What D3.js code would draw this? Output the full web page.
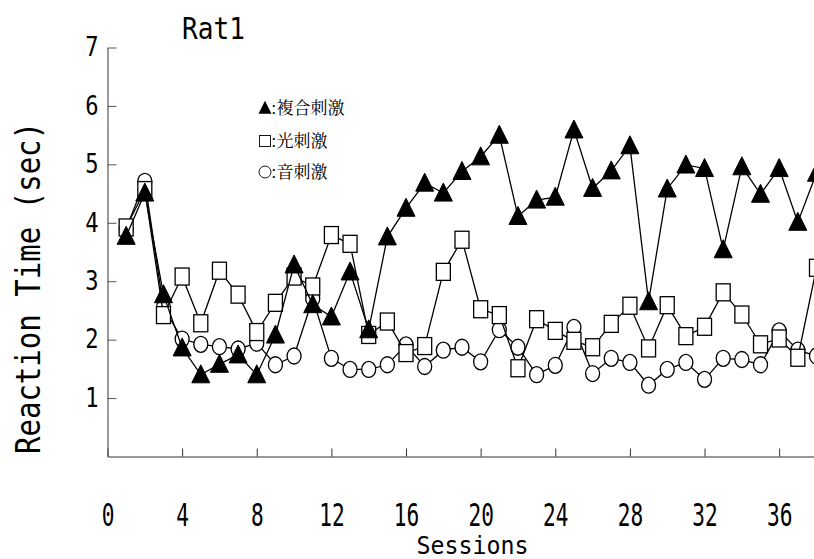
<!DOCTYPE html>
<html>
<head>
<meta charset="utf-8">
<script src="https://cdn.jsdelivr.net/npm/d3@7"></script>
<style>
  html, body { margin: 0; padding: 0; background: #fff; overflow: hidden; }
  svg { display: block; }
</style>
</head>
<body>
<svg id="chart" width="814" height="559"></svg>
<script>
// Sessions and mean reaction times (sec) for each stimulus condition
const sessions = d3.range(1, 39);
const complexStim = [3.77, 4.51, 2.77, 1.86, 1.40, 1.58, 1.74, 1.40, 2.08, 3.28,
  2.60, 2.39, 3.16, 2.17, 3.76, 4.25, 4.68, 4.51, 4.88, 5.13,
  5.50, 4.11, 4.39, 4.44, 5.59, 4.59, 4.89, 5.32, 2.65, 4.58,
  4.99, 4.93, 3.54, 4.96, 4.49, 4.93, 4.01, 4.85];
const lightStim = [3.92, 4.56, 2.42, 3.08, 2.28, 3.18, 2.77, 2.13, 2.63, 3.08,
  2.91, 3.79, 3.64, 2.08, 2.31, 1.77, 1.89, 3.16, 3.71, 2.52,
  2.42, 1.51, 2.35, 2.15, 1.98, 1.87, 2.27, 2.58, 1.85, 2.59,
  2.06, 2.22, 2.81, 2.43, 1.92, 2.02, 1.69, 3.23];
const soundStim = [3.90, 4.71, 2.55, 2.01, 1.92, 1.88, 1.84, 1.94, 1.57, 1.72,
  2.70, 1.68, 1.49, 1.49, 1.57, 1.91, 1.54, 1.82, 1.87, 1.62,
  2.17, 1.87, 1.40, 1.56, 2.21, 1.42, 1.68, 1.61, 1.22, 1.49,
  1.61, 1.32, 1.68, 1.66, 1.57, 2.15, 1.82, 1.72];
const xTicks = [0, 4, 8, 12, 16, 20, 24, 28, 32, 36];
const yTicks = [1, 2, 3, 4, 5, 6, 7];
const legendLabels = [":複合刺激", ":光刺激", ":音刺激"];

const svg = d3.select("#chart");
const mono = "'DejaVu Sans Mono', monospace";
const cjk = "'Noto Serif CJK JP', 'Noto Sans CJK JP', serif";

const x = d3.scaleLinear().domain([0, 40]).range([107.5, 853.8]);
const y = d3.scaleLinear().domain([0, 7]).range([456.5, 47.5]);

// X axis: inward ticks, labels well below the line
const gx = svg.append("g").attr("transform", `translate(0,${y(0)})`)
  .call(d3.axisBottom(x).tickValues(xTicks).tickFormat(d3.format("d"))
    .tickSize(-8).tickPadding(47).tickSizeOuter(0));
gx.select(".domain").attr("stroke", "#333").attr("stroke-width", 1.2);
gx.selectAll(".tick line").attr("stroke", "#333");
gx.selectAll(".tick text")
  .attr("font-family", mono).attr("font-size", 32).attr("fill", "#000")
  .attr("transform", "scale(0.66,1)");

// Y axis: inward ticks
const gy = svg.append("g").attr("transform", `translate(${x(0)},0)`)
  .call(d3.axisLeft(y).tickValues(yTicks).tickFormat(d3.format("d"))
    .tickSize(-9).tickPadding(9).tickSizeOuter(0));
gy.select(".domain").attr("stroke", "#555").attr("stroke-width", 1.2);
gy.selectAll(".tick line").attr("stroke", "#555");
gy.selectAll(".tick text")
  .attr("font-family", mono).attr("font-size", 26).attr("fill", "#000")
  .attr("x", -9 / 0.85)
  .attr("transform", "scale(0.85,1)");

// Titles
svg.append("text").attr("transform", "translate(182,39) scale(0.87,1)")
  .attr("font-family", mono).attr("font-size", 30).text("Rat1");
svg.append("text").attr("transform", "translate(472.5,554) scale(0.97,1)")
  .attr("text-anchor", "middle")
  .attr("font-family", mono).attr("font-size", 24).text("Sessions");
svg.append("text").attr("transform", "translate(40,288) rotate(-90) scale(0.88,1)")
  .attr("text-anchor", "middle")
  .attr("font-family", mono).attr("font-size", 33).text("Reaction Time (sec)");

// Marker shapes
const tri = (s) => `M0,${-s * 0.55}L${s / 2},${s * 0.45}L${-s / 2},${s * 0.45}Z`;
const line = d3.line().x((d) => x(d[0])).y((d) => y(d[1]));

function drawSeries(vals, kind) {
  const pts = sessions.map((s, i) => [s, vals[i]]);
  const g = svg.append("g");
  g.append("path").attr("d", line(pts)).attr("fill", "none")
    .attr("stroke", "#000").attr("stroke-width", 1.3);
  const m = g.selectAll("g.m").data(pts).join("g")
    .attr("transform", (d) => `translate(${x(d[0])},${y(d[1])})`);
  if (kind === "circle") {
    m.append("ellipse").attr("rx", 7).attr("ry", 8)
      .attr("fill", "#fff").attr("stroke", "#000").attr("stroke-width", 1.3);
  } else if (kind === "square") {
    m.append("rect").attr("x", -7).attr("y", -8.5).attr("width", 14).attr("height", 17)
      .attr("fill", "#fff").attr("stroke", "#000").attr("stroke-width", 1.3);
  } else {
    m.append("path").attr("d", tri(18)).attr("fill", "#000")
      .attr("stroke", "#000").attr("stroke-width", 1);
  }
}
drawSeries(soundStim, "circle");
drawSeries(lightStim, "square");
drawSeries(complexStim, "triangle");

// Legend
const legY = [108, 141, 172];
const lg = svg.append("g");
lg.append("path").attr("transform", `translate(265,${legY[0]})`).attr("d", tri(13)).attr("fill", "#000");
lg.append("rect").attr("x", 259.5).attr("y", legY[1] - 5.5).attr("width", 11).attr("height", 11)
  .attr("fill", "none").attr("stroke", "#000").attr("stroke-width", 0.9);
lg.append("circle").attr("cx", 265).attr("cy", legY[2]).attr("r", 6)
  .attr("fill", "none").attr("stroke", "#000").attr("stroke-width", 0.9);
legendLabels.forEach((t, i) => {
  lg.append("text").attr("x", 271).attr("y", legY[i] + 6)
    .attr("font-family", cjk).attr("font-size", 17).attr("fill", "#000").text(t);
});
</script>
</body>
</html>
